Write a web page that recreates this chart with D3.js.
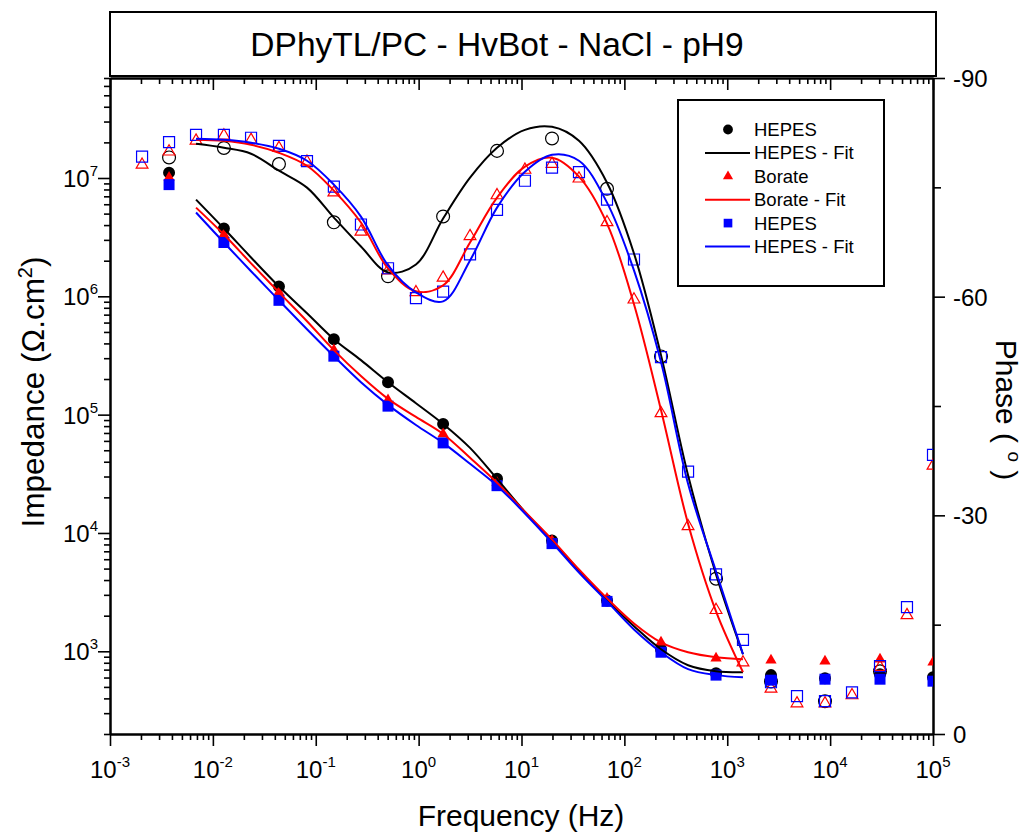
<!DOCTYPE html>
<html>
<head>
<meta charset="utf-8">
<script src="https://cdn.jsdelivr.net/npm/d3@7"></script>
<style>
  body { margin: 0; background: #fff; }
  svg { display: block; font-family: "Liberation Sans", Arial, sans-serif; }
</style>
</head>
<body>
<svg id="chart" width="1028" height="835"></svg>
<script>
// ---- Bode data: impedance modulus (filled) and phase (open) ----
const titleText = "DPhyTL/PC - HvBot - NaCl - pH9";

// frequencies (Hz) of the impedance points
const impFreq = [0.00375, 0.0128, 0.0439, 0.150, 0.504, 1.73, 5.78, 19.8, 67.8, 227, 778, 2662, 8914, 30540, 100000];
const hepesZ  = [1.11e7, 3.74e6, 1.21e6, 4.34e5, 1.88e5, 8.35e4, 2.87e4, 8620, 2690, 1040, 653, 629, 593, 641, 604];
const borateZ = [1.01e7, 3.33e6, 1.08e6, 3.51e5, 1.33e5, 6.87e4, 2.66e4, 8600, 2800, 1190, 874, 841, 824, 857, 809];
const hepes2Z = [8.79e6, 2.85e6, 9.25e5, 3.12e5, 1.18e5, 5.77e4, 2.51e4, 8130, 2640, 982, 629, 570, 581, 581, 559];

// phase points (degrees)
const hepesPhFreq = [0.00375, 0.0128, 0.0439, 0.150, 0.504, 1.73, 5.78, 19.8, 67.8, 227, 778, 2662, 8914, 30540];
const hepesPh = [-79.1, -80.4, -78.2, -70.2, -62.8, -71.0, -80.0, -81.7, -74.8, -51.8, -21.3, -7.2, -4.5, -8.6];

const phaseFreq = [0.00205, 0.00375, 0.00686, 0.0128, 0.0235, 0.0439, 0.0822, 0.150, 0.275, 0.504,
                   0.942, 1.73, 3.16, 5.78, 10.8, 19.8, 36.2, 67.8, 124, 227,
                   416, 778, 1422, 2662, 4764, 8914, 16320, 30540, 55860, 100000];
const boratePh = [-78.1, -79.9, -81.4, -82.1, -81.5, -80.4, -78.5, -74.3, -68.9, -63.6,
                  -60.6, -62.6, -68.3, -73.9, -77.4, -78.2, -76.2, -70.2, -59.6, -44.0,
                  -28.5, -17.0, -9.8, -6.2, -4.2, -4.2, -5.3, -9.2, -16.3, -36.8];
const hepes2Ph = [-79.2, -81.2, -82.2, -82.2, -81.8, -80.7, -78.6, -75.1, -69.9, -63.9,
                  -59.8, -60.7, -65.8, -71.9, -75.9, -77.7, -77.1, -73.3, -65.1, -51.7,
                  -36.0, -21.9, -12.9, -7.1, -5.2, -4.5, -5.7, -9.3, -17.4, -38.3];

// equivalent-circuit fits
const fitFreq = [0.00686, 0.0128, 0.0235, 0.0439, 0.0822, 0.150, 0.275, 0.504, 0.942, 1.73, 3.16,
                 5.78, 10.8, 19.8, 36.2, 67.8, 124, 227, 416, 778, 1422];
const hepesFitZ  = [6.56e6, 3.74e6, 2.13e6, 1.21e6, 7.19e5, 4.34e5, 2.89e5, 1.88e5, 1.25e5, 8.35e4, 5.24e4,
                    2.87e4, 1.51e4, 8620, 4820, 2690, 1630, 1040, 763, 679, 666];
const borateFitZ = [5.62e6, 3.33e6, 1.90e6, 1.08e6, 6.16e5, 3.51e5, 2.12e5, 1.36e5, 9.57e4, 6.87e4, 4.32e4,
                    2.66e4, 1.51e4, 8790, 4910, 2800, 1720, 1190, 982, 891, 857];
const hepes2FitZ = [5.11e6, 2.85e6, 1.63e6, 9.25e5, 5.27e5, 3.12e5, 1.88e5, 1.21e5, 8.18e4, 5.77e4, 3.84e4,
                    2.51e4, 1.46e4, 8300, 4630, 2640, 1530, 982, 706, 629, 604];
const hepesFitPh  = [-80.97, -80.43, -79.61, -77.28, -74.96, -70.85, -66.89, -63.33, -64.42, -70.72, -76.32,
                     -80.43, -82.89, -83.30, -81.38, -75.64, -65.93, -51.98, -35.5, -21.89, -10.94];
const borateFitPh = [-81.52, -81.38, -80.84, -79.74, -77.96, -74.55, -70.17, -63.88, -60.73, -61.55, -67.43,
                     -73.59, -77.83, -79.06, -76.46, -70.03, -58.96, -44.45, -28.86, -16.82, -8.48];
const hepes2FitPh = [-81.66, -81.52, -81.11, -80.29, -78.65, -75.37, -70.99, -64.29, -60.59, -59.36, -64.97,
                     -72.22, -77.14, -79.47, -78.65, -72.90, -63.60, -51.02, -34.33, -22.30, -10.94];

// axis ticks
const xTickExp = [-3, -2, -1, 0, 1, 2, 3, 4, 5];
const zTickExp = [3, 4, 5, 6, 7];
const phaseTicks = [0, -30, -60, -90];
const phaseMinor = [-15, -45, -75];

const legendLabels = ["HEPES", "HEPES - Fit", "Borate", "Borate - Fit", "HEPES", "HEPES - Fit"];

// ---- layout ----
const svg = d3.select("#chart");
const L = 110, R = 933, T = 78, B = 734;

const x  = d3.scaleLog().domain([1e-3, 1e5]).range([L, R]);
const yZ = d3.scaleLog().domain([200, 7e7]).range([B, T]);
const yP = d3.scaleLinear().domain([0, -90]).range([B, T]);

const xMajor = xTickExp.map(e => Math.pow(10, e));
const xMinor = [];
xTickExp.slice(0, -1).forEach(e => { for (let k = 2; k <= 9; k++) xMinor.push(k * Math.pow(10, e)); });
const zMajor = zTickExp.map(e => Math.pow(10, e));
const zMinor = [];
[2, 3, 4, 5, 6, 7].forEach(e => { for (let k = 2; k <= 9; k++) { const v = k * Math.pow(10, e); if (v >= 200 && v <= 7e7) zMinor.push(v); } });

// title box
svg.append("rect").attr("x", 110).attr("y", 12).attr("width", 826).attr("height", 64)
  .attr("fill", "none").attr("stroke", "#000").attr("stroke-width", 2);
svg.append("text").attr("x", 497).attr("y", 56).attr("text-anchor", "middle")
  .attr("font-size", 33.5).text(titleText);

// axes
function styleAxis(g) {
  g.selectAll(".domain").attr("stroke", "#000").attr("stroke-width", 2);
  g.selectAll(".tick line").attr("stroke", "#000").attr("stroke-width", 1.6);
}
const noFmt = () => "";
svg.append("g").attr("transform", `translate(0,${B})`)
  .call(d3.axisBottom(x).tickValues(xMinor).tickSize(6).tickSizeOuter(0).tickFormat(noFmt)).call(styleAxis);
svg.append("g").attr("transform", `translate(0,${B})`)
  .call(d3.axisBottom(x).tickValues(xMajor).tickSize(12).tickSizeOuter(0).tickFormat(noFmt)).call(styleAxis);
// top axis, ticks pointing into the plot
svg.append("g").attr("transform", `translate(0,${T})`)
  .call(d3.axisBottom(x).tickValues(xMinor).tickSize(6).tickSizeOuter(0).tickFormat(noFmt)).call(styleAxis);
svg.append("g").attr("transform", `translate(0,${T})`)
  .call(d3.axisBottom(x).tickValues(xMajor).tickSize(12).tickSizeOuter(0).tickFormat(noFmt)).call(styleAxis);
// left impedance axis
svg.append("g").attr("transform", `translate(${L},0)`)
  .call(d3.axisLeft(yZ).tickValues(zMinor).tickSize(6).tickSizeOuter(0).tickFormat(noFmt)).call(styleAxis);
svg.append("g").attr("transform", `translate(${L},0)`)
  .call(d3.axisLeft(yZ).tickValues(zMajor).tickSize(12).tickSizeOuter(0).tickFormat(noFmt)).call(styleAxis);
// right phase axis
svg.append("g").attr("transform", `translate(${R},0)`)
  .call(d3.axisRight(yP).tickValues(phaseMinor).tickSize(8).tickSizeOuter(0).tickFormat(noFmt)).call(styleAxis);
svg.append("g").attr("transform", `translate(${R},0)`)
  .call(d3.axisRight(yP).tickValues(phaseTicks).tickSize(12).tickSizeOuter(0).tickFormat(noFmt)).call(styleAxis);

// tick labels
function powLabel(parent, px, py, exp, anchor) {
  const t = parent.append("text").attr("x", px).attr("y", py).attr("text-anchor", anchor).attr("font-size", 24);
  t.append("tspan").text("10");
  t.append("tspan").attr("dy", -11).attr("font-size", 15).text(exp);
  return t;
}
const labels = svg.append("g");
xTickExp.forEach(e => powLabel(labels, x(Math.pow(10, e)), 778, String(e), "middle"));
zTickExp.forEach(e => powLabel(labels, 98, yZ(Math.pow(10, e)) + 9, String(e), "end"));
phaseTicks.forEach(v => labels.append("text").attr("x", 953).attr("y", yP(v) + 9)
  .attr("font-size", 24).text(String(v)));

// axis titles
svg.append("text").attr("x", 521).attr("y", 826).attr("text-anchor", "middle").attr("font-size", 30)
  .text("Frequency (Hz)");
const yt = svg.append("text").attr("transform", "translate(44,392) rotate(-90)")
  .attr("text-anchor", "middle").attr("font-size", 31.5);
yt.append("tspan").text("Impedance (\u03A9.cm");
yt.append("tspan").attr("dy", -12).attr("font-size", 20).text("2");
yt.append("tspan").attr("dy", 12).text(")");
const pt = svg.append("text").attr("transform", "translate(996,410) rotate(90)")
  .attr("text-anchor", "middle").attr("font-size", 30);
pt.append("tspan").text("Phase ( ");
pt.append("tspan").attr("dy", -12).attr("font-size", 19).text("o");
pt.append("tspan").attr("dy", 12).text(" )");

// plot area
svg.append("clipPath").attr("id", "plotClip").append("rect")
  .attr("x", L).attr("y", T).attr("width", R - L).attr("height", B - T);
const plot = svg.append("g").attr("clip-path", "url(#plotClip)");

const series = [
  { color: "#000000", shape: d3.symbolCircle, fSize: 113, oSize: 130,
    z: hepesZ, phF: hepesPhFreq, ph: hepesPh, fitZ: hepesFitZ, fitPh: hepesFitPh },
  { color: "#ff0000", shape: d3.symbolTriangle, fSize: 55, oSize: 60,
    z: borateZ, phF: phaseFreq, ph: boratePh, fitZ: borateFitZ, fitPh: borateFitPh },
  { color: "#0000ff", shape: d3.symbolSquare, fSize: 121, oSize: 121,
    z: hepes2Z, phF: phaseFreq, ph: hepes2Ph, fitZ: hepes2FitZ, fitPh: hepes2FitPh }
];

const lineZ = d3.line().x(d => x(d[0])).y(d => yZ(d[1])).curve(d3.curveCatmullRom);
const lineP = d3.line().x(d => x(d[0])).y(d => yP(d[1])).curve(d3.curveCatmullRom);

// markers
series.forEach(s => {
  plot.append("g").selectAll("path")
    .data(s.phF.map((f, i) => [f, s.ph[i]]))
    .join("path")
    .attr("transform", d => `translate(${x(d[0])},${yP(d[1])})`)
    .attr("d", d3.symbol().type(s.shape).size(s.oSize))
    .attr("fill", "none").attr("stroke", s.color).attr("stroke-width", 1.2);
  plot.append("g").selectAll("path")
    .data(impFreq.map((f, i) => [f, s.z[i]]))
    .join("path")
    .attr("transform", d => `translate(${x(d[0])},${yZ(d[1])})`)
    .attr("d", d3.symbol().type(s.shape).size(s.fSize))
    .attr("fill", s.color);
});

// fit lines
series.forEach(s => {
  plot.append("path").attr("d", lineZ(fitFreq.map((f, i) => [f, s.fitZ[i]])))
    .attr("fill", "none").attr("stroke", s.color).attr("stroke-width", 2);
  plot.append("path").attr("d", lineP(fitFreq.map((f, i) => [f, s.fitPh[i]])))
    .attr("fill", "none").attr("stroke", s.color).attr("stroke-width", 2);
});

// legend
const lg = svg.append("g");
lg.append("rect").attr("x", 678).attr("y", 100).attr("width", 206).attr("height", 186)
  .attr("fill", "#fff").attr("stroke", "#000").attr("stroke-width", 2);
legendLabels.forEach((lab, i) => {
  const s = series[Math.floor(i / 2)];
  const cy = 129.5 + i * 23.4;
  if (i % 2 === 0) {
    lg.append("path").attr("transform", `translate(728,${cy})`)
      .attr("d", d3.symbol().type(s.shape).size(s.shape === d3.symbolTriangle ? 45 : 75))
      .attr("fill", s.color);
  } else {
    lg.append("line").attr("x1", 705).attr("x2", 750).attr("y1", cy).attr("y2", cy)
      .attr("stroke", s.color).attr("stroke-width", 2);
  }
  lg.append("text").attr("x", 754).attr("y", cy + 6.5).attr("font-size", 18.5).text(lab);
});
</script>
</body>
</html>
